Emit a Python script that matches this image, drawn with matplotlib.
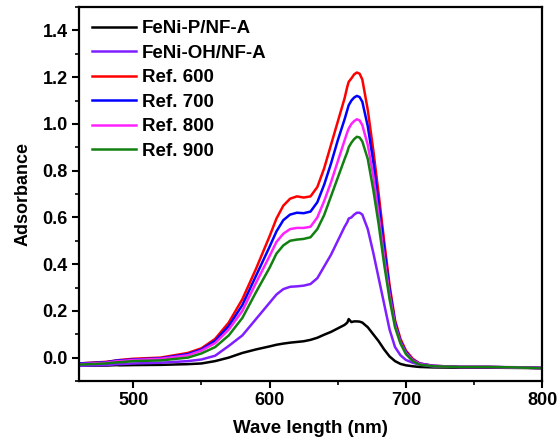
import matplotlib
matplotlib.use('Agg')
import matplotlib.pyplot as plt
from matplotlib.ticker import MultipleLocator

plt.rcParams['font.family'] = ['Liberation Sans', 'DejaVu Sans']
plt.rcParams['font.weight'] = 'bold'

# wavelength grid (nm)
wl = [460, 480, 488, 490, 500, 520, 540, 550, 560, 570, 580, 590, 600, 605, 610,
      615, 620, 625, 630, 635, 640, 645, 650, 655, 657, 658, 660, 662, 664, 666, 668,
      672, 676, 680, 684, 688, 692, 696, 700, 705, 710, 720, 740, 760, 780, 800]

feni_p = [-0.035, -0.034, -0.032, -0.033, -0.032, -0.031, -0.028, -0.025, -0.015, 0.0,
          0.02, 0.035, 0.048, 0.055, 0.06, 0.064, 0.067, 0.07, 0.076, 0.085, 0.098,
          0.11, 0.125, 0.14, 0.15, 0.165, 0.152, 0.155, 0.155, 0.154, 0.15,
          0.13, 0.10, 0.07, 0.035, 0.005, -0.015, -0.027, -0.033, -0.037, -0.04,
          -0.042, -0.043, -0.043, -0.044, -0.045]

feni_oh = [-0.035, -0.032, -0.028, -0.028, -0.025, -0.022, -0.015, -0.008, 0.008, 0.05,
           0.095, 0.165, 0.235, 0.27, 0.293, 0.303, 0.305, 0.308, 0.315, 0.34, 0.39,
           0.44, 0.50, 0.56, 0.58, 0.595, 0.60, 0.612, 0.62, 0.62, 0.612,
           0.55, 0.45, 0.34, 0.23, 0.12, 0.045, 0.01, -0.01, -0.022, -0.03,
           -0.038, -0.04, -0.04, -0.041, -0.043]

ref600 = [-0.025, -0.018, -0.012, -0.01, -0.005, 0.0, 0.02, 0.04, 0.08, 0.15,
          0.25, 0.38, 0.52, 0.595, 0.65, 0.68, 0.69, 0.685, 0.69, 0.73, 0.81,
          0.91, 1.01, 1.11, 1.16, 1.18, 1.195, 1.212, 1.22, 1.215, 1.19,
          1.06, 0.89, 0.70, 0.50, 0.31, 0.16, 0.08, 0.03, -0.005, -0.025,
          -0.035, -0.04, -0.04, -0.042, -0.045]

ref700 = [-0.025, -0.02, -0.012, -0.012, -0.008, -0.003, 0.015, 0.035, 0.072, 0.135,
          0.225, 0.35, 0.475, 0.54, 0.588, 0.612, 0.62, 0.618, 0.625, 0.665, 0.74,
          0.83, 0.93, 1.02, 1.06, 1.08, 1.10, 1.113, 1.12, 1.115, 1.095,
          0.99, 0.84, 0.66, 0.47, 0.29, 0.15, 0.07, 0.025, -0.01, -0.025,
          -0.035, -0.04, -0.04, -0.042, -0.045]

ref800 = [-0.028, -0.022, -0.015, -0.015, -0.01, -0.005, 0.01, 0.03, 0.062, 0.12,
          0.20, 0.32, 0.435, 0.495, 0.53, 0.55, 0.555, 0.555, 0.56, 0.60, 0.67,
          0.75, 0.84, 0.93, 0.965, 0.98, 1.0, 1.012, 1.02, 1.015, 0.995,
          0.91, 0.78, 0.61, 0.43, 0.27, 0.14, 0.065, 0.02, -0.012, -0.027,
          -0.036, -0.04, -0.04, -0.042, -0.045]

ref900 = [-0.03, -0.025, -0.02, -0.02, -0.015, -0.012, 0.0, 0.018, 0.045, 0.095,
          0.17, 0.28, 0.385, 0.445, 0.48, 0.50, 0.505, 0.508, 0.515, 0.55, 0.61,
          0.69, 0.77, 0.85, 0.88, 0.90, 0.92, 0.935, 0.945, 0.942, 0.925,
          0.85, 0.72, 0.57, 0.40, 0.25, 0.13, 0.06, 0.015, -0.015, -0.03,
          -0.037, -0.04, -0.04, -0.042, -0.045]

series = [
    ('FeNi-P/NF-A', feni_p, 'black'),
    ('FeNi-OH/NF-A', feni_oh, '#7f1fff'),
    ('Ref. 600', ref600, '#ff0000'),
    ('Ref. 700', ref700, '#0000ff'),
    ('Ref. 800', ref800, '#ff22ff'),
    ('Ref. 900', ref900, '#118011'),
]

fig = plt.figure(figsize=(5.59, 4.43), dpi=100)
ax = fig.add_axes([0.141, 0.140, 0.829, 0.844])

for label, y, c in series:
    ax.plot(wl, y, color=c, lw=1.8, label=label)

ax.set_xlim(460, 800)
ax.set_ylim(-0.1, 1.5)
ax.xaxis.set_major_locator(MultipleLocator(100))
ax.xaxis.set_minor_locator(MultipleLocator(50))
ax.yaxis.set_minor_locator(MultipleLocator(0.1))
ax.set_yticks([0.0, 0.2, 0.4, 0.6, 0.8, 1.0, 1.2, 1.4])

for s in ax.spines.values():
    s.set_linewidth(1.6)
ax.tick_params(which='major', direction='out', length=5, width=1.5, labelsize=13, pad=3)
ax.tick_params(which='minor', direction='out', length=3, width=1.2)

ax.set_xlabel('Wave length (nm)', fontsize=13.5, fontweight='bold', labelpad=8)
ax.set_ylabel('Adsorbance', fontsize=13, fontweight='bold', labelpad=8)

ax.legend(loc='upper left', frameon=False, handlelength=2.35,
          handletextpad=0.3, labelspacing=0.39, borderaxespad=0.3,
          prop={'weight': 'bold', 'size': 13.5})

fig.savefig('out.png', dpi=100)
